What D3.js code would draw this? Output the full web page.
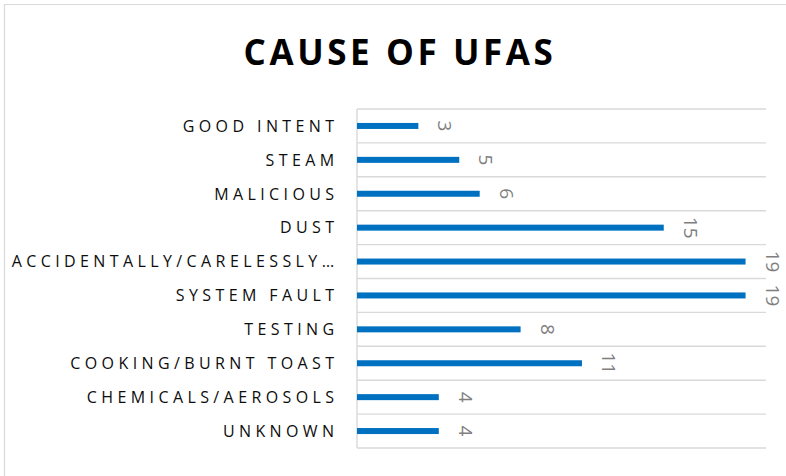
<!DOCTYPE html>
<html>
<head>
<meta charset="utf-8">
<script src="https://cdn.jsdelivr.net/npm/d3@7"></script>
<style>
  html, body { margin: 0; padding: 0; background: #fff; }
  svg { display: block; }
</style>
</head>
<body>
<svg id="chart" width="786" height="476"></svg>
<script>
// categories top to bottom, as shown on the chart
var categories = ['GOOD INTENT', 'STEAM', 'MALICIOUS', 'DUST', 'ACCIDENTALLY/CARELESSLY\u2026',
    'SYSTEM FAULT', 'TESTING', 'COOKING/BURNT TOAST', 'CHEMICALS/AEROSOLS', 'UNKNOWN'];
var counts = [3, 5, 6, 15, 19, 19, 8, 11, 4, 4];
var title = 'CAUSE OF UFAS';

var width = 786, height = 476;
var plot = { left: 357, right: 766, top: 109, bottom: 448 };

var svg = d3.select('#chart');

// chart area border (only top and left are in view)
svg.append('path')
    .attr('d', 'M4.5,' + height + 'V4.5H' + width)
    .attr('fill', 'none')
    .attr('stroke', '#d9d9d9')
    .attr('stroke-width', 1.2);

svg.append('text')
    .attr('x', 400)
    .attr('y', 65)
    .attr('text-anchor', 'middle')
    .attr('font-family', 'Open Sans, sans-serif')
    .attr('font-weight', 'bold')
    .attr('font-size', 35)
    .attr('letter-spacing', 3.6)
    .attr('fill', '#000')
    .text(title);

var xs = d3.scaleLinear().domain([0, 20]).range([plot.left, plot.right]);
var ys = d3.scaleBand().domain(categories).range([plot.top, plot.bottom])
    .paddingInner(0.823).paddingOuter(0.4115);
var step = ys.step();

// horizontal lines between categories
var grid = svg.append('g');
d3.range(categories.length + 1).forEach(function (i) {
    grid.append('line')
        .attr('x1', plot.left).attr('x2', plot.right)
        .attr('y1', plot.top + i * step).attr('y2', plot.top + i * step)
        .attr('stroke', '#d9d9d9')
        .attr('stroke-width', 1.4);
});

// category axis line
svg.append('line')
    .attr('x1', plot.left).attr('x2', plot.left)
    .attr('y1', plot.top).attr('y2', plot.bottom)
    .attr('stroke', '#d9d9d9')
    .attr('stroke-width', 1.4);

// category labels
svg.append('g').selectAll('text').data(categories).enter().append('text')
    .attr('x', 338.5)
    .attr('y', function (d) { return ys(d) + ys.bandwidth() / 2; })
    .attr('dy', '0.36em')
    .attr('text-anchor', 'end')
    .attr('font-family', 'Open Sans, sans-serif')
    .attr('font-size', 16)
    .attr('letter-spacing', 4.4)
    .attr('fill', '#0d0d0d')
    .text(function (d) { return d; });

// bars
svg.append('g').selectAll('rect').data(counts).enter().append('rect')
    .attr('x', xs(0))
    .attr('y', function (d, i) { return ys(categories[i]); })
    .attr('width', function (d) { return xs(d) - xs(0); })
    .attr('height', ys.bandwidth())
    .attr('fill', '#0070c0');

// value labels, rotated to read top to bottom
svg.append('g').selectAll('text').data(counts).enter().append('text')
    .attr('transform', function (d, i) {
        var cx = xs(d) + 20;
        var cy = ys(categories[i]) + ys.bandwidth() / 2;
        return 'translate(' + cx + ',' + cy + ') rotate(90)';
    })
    .attr('text-anchor', 'middle')
    .attr('font-family', 'Open Sans, sans-serif')
    .attr('font-size', 19)
    .attr('fill', '#7f7f7f')
    .text(function (d) { return d; });
</script>
</body>
</html>
